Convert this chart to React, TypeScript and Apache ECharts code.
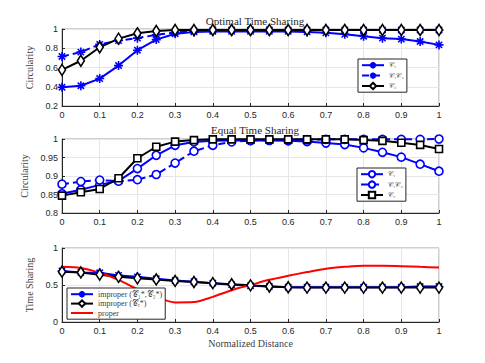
import React, { useEffect, useRef } from "react";
import * as echarts from "echarts";

const distances = [0, 0.05, 0.1, 0.15, 0.2, 0.25, 0.3, 0.35, 0.4, 0.45, 0.5, 0.55, 0.6, 0.65, 0.7, 0.75, 0.8, 0.85, 0.9, 0.95, 1];

// Panel 1: Optimal Time Sharing
const optC1 = [0.395, 0.41, 0.485, 0.62, 0.78, 0.89, 0.95, 0.97, 0.975, 0.975, 0.975, 0.975, 0.975, 0.97, 0.96, 0.945, 0.925, 0.905, 0.895, 0.87, 0.835];
const optC1C2 = [0.715, 0.76, 0.84, 0.88, 0.905, 0.94, 0.965, 0.98, 0.985, 0.99, 0.99, 0.99, 0.99, 0.99, 0.99, 0.99, 0.99, 0.99, 0.99, 0.99, 0.99];
const optC2 = [0.575, 0.67, 0.81, 0.9, 0.955, 0.98, 0.99, 0.99, 0.99, 0.99, 0.99, 0.99, 0.99, 0.99, 0.99, 0.99, 0.99, 0.99, 0.99, 0.99, 0.99];

// Panel 2: Equal Time Sharing
const eqC1 = [0.852, 0.863, 0.876, 0.887, 0.92, 0.956, 0.983, 0.992, 0.995, 0.996, 0.996, 0.996, 0.995, 0.993, 0.989, 0.985, 0.976, 0.964, 0.951, 0.932, 0.913];
const eqC1C2 = [0.878, 0.885, 0.889, 0.886, 0.89, 0.904, 0.935, 0.967, 0.983, 0.992, 0.996, 0.997, 0.998, 0.998, 0.999, 0.999, 0.999, 0.999, 0.999, 0.999, 1.0];
const eqC2 = [0.847, 0.856, 0.865, 0.894, 0.948, 0.979, 0.993, 0.997, 0.999, 0.999, 0.999, 0.999, 0.999, 0.999, 0.999, 0.999, 0.997, 0.995, 0.99, 0.984, 0.973];

// Panel 3: Time Sharing
const tsImproperC1C2 = [0.69, 0.67, 0.665, 0.63, 0.61, 0.585, 0.56, 0.545, 0.525, 0.505, 0.49, 0.48, 0.47, 0.47, 0.47, 0.47, 0.47, 0.47, 0.47, 0.48, 0.48];
const tsImproperCr = [0.68, 0.67, 0.64, 0.61, 0.59, 0.575, 0.555, 0.54, 0.525, 0.51, 0.495, 0.48, 0.47, 0.465, 0.465, 0.465, 0.465, 0.465, 0.465, 0.465, 0.465];
const tsProper = [0.745, 0.73, 0.665, 0.57, 0.445, 0.34, 0.265, 0.27, 0.34, 0.43, 0.5, 0.57, 0.625, 0.675, 0.72, 0.745, 0.76, 0.76, 0.755, 0.745, 0.735];

const xTicks = ["0", "0.1", "0.2", "0.3", "0.4", "0.5", "0.6", "0.7", "0.8", "0.9", "1"];

const legendLabels: Record<string, string> = {
  o1: "𝒞₁",
  o2: "𝒞₁𝒞₂",
  o3: "𝒞₂",
  e1: "𝒞₁",
  e2: "𝒞₁𝒞₂",
  e3: "𝒞₂",
  t1: "improper (𝒞₁*,𝒞₂*)",
  t2: "improper (𝒞ᵣ*)",
  t3: "proper",
};

const ASTERISK = "path://M0,5L10,5M5,0L5,10M1.5,1.5L8.5,8.5M1.5,8.5L8.5,1.5";
const SERIF = "Liberation Serif";
const SANS = "Liberation Sans";
const BLUE = "#0000ff";

const pairs = (ys: number[]) => ys.map((y, i) => [distances[i], y]);
const fmt = (v: number) => String(+v.toFixed(2));

export default function App() {
  const ref = useRef<HTMLDivElement>(null);
  useEffect(() => {
    if (!ref.current) return;
    const chart = echarts.init(ref.current, undefined, { renderer: "svg" });
    const grids = [
      { left: 62, width: 377, top: 29, height: 77 },
      { left: 62, width: 377, top: 139, height: 74 },
      { left: 62, width: 377, top: 248, height: 74 },
    ].map((g) => ({ ...g, show: true, borderColor: "#a0a0a0", borderWidth: 1, backgroundColor: "#fff" }));

    const xAxis = [0, 1, 2].map((i) => ({
      type: "value",
      gridIndex: i,
      min: 0,
      max: 1,
      interval: 0.1,
      axisLine: { show: true, lineStyle: { color: "#262626", width: 1 } },
      axisTick: { show: true, inside: true, length: 3, lineStyle: { color: "#262626" } },
      axisLabel: { color: "#262626", fontFamily: SANS, fontSize: 9, margin: 4, formatter: (v: number) => xTicks[Math.round(v * 10)] },
      splitLine: { show: true, lineStyle: { color: "#e6e6e6", width: 1 } },
      name: i === 2 ? "Normalized Distance" : "",
      nameLocation: "middle",
      nameGap: 16,
      nameTextStyle: { fontFamily: SERIF, fontSize: 10, color: "#404040" },
    }));

    const yCommon = {
      type: "value",
      axisLine: { show: true, lineStyle: { color: "#262626", width: 1 } },
      axisTick: { show: true, inside: true, length: 3, lineStyle: { color: "#262626" } },
      axisLabel: { color: "#262626", fontFamily: SANS, fontSize: 9, margin: 4, formatter: fmt },
      splitLine: { show: true, lineStyle: { color: "#e6e6e6", width: 1 } },
      nameLocation: "middle",
      nameTextStyle: { fontFamily: SERIF, fontSize: 10, color: "#404040" },
    };
    const yAxis = [
      { ...yCommon, gridIndex: 0, min: 0.2, max: 1, interval: 0.2, name: "Circularity", nameGap: 13 },
      { ...yCommon, gridIndex: 1, min: 0.8, max: 1, interval: 0.05, name: "Circularity", nameGap: 21 },
      { ...yCommon, gridIndex: 2, min: 0, max: 1, interval: 0.5, name: "Time Sharing", nameGap: 13 },
    ];

    const line = (name: string, data: number[], idx: number, color: string, symbol: string, size: any, dashed: boolean, fillWhite: boolean) => ({
      type: "line",
      name,
      xAxisIndex: idx,
      yAxisIndex: idx,
      data: pairs(data),
      symbol,
      symbolSize: size,
      showSymbol: true,
      lineStyle: { color, width: 2, type: dashed ? [7, 4] : "solid" },
      itemStyle: { color: fillWhite ? "#fff" : color, borderColor: color, borderWidth: 1.6 },
      emphasis: { disabled: true },
      z: 3,
    });

    const legendCommon = {
      orient: "vertical",
      backgroundColor: "#fff",
      borderColor: "#262626",
      borderWidth: 1,
      borderRadius: 0,
      itemWidth: 22,
      itemHeight: 8,
      itemGap: 2,
      padding: [2, 3, 2, 3],
      selectedMode: false,
      formatter: (n: string) => legendLabels[n] ?? n,
    };

    chart.setOption({
      animation: false,
      backgroundColor: "#fff",
      title: [
        { text: "Optimal Time Sharing", left: 250, top: 10, textAlign: "center", textStyle: { fontFamily: SERIF, fontSize: 11, fontWeight: "normal", color: "#262626" } },
        { text: "Equal Time Sharing", left: 250, top: 119, textAlign: "center", textStyle: { fontFamily: SERIF, fontSize: 11, fontWeight: "normal", color: "#262626" } },
      ],
      grid: grids,
      xAxis,
      yAxis,
      legend: [
        { ...legendCommon, left: 358, top: 59, data: ["o1", "o2", "o3"], textStyle: { fontFamily: SERIF, fontSize: 7, color: "#404040" } },
        { ...legendCommon, left: 357, top: 168, data: ["e1", "e2", "e3"], textStyle: { fontFamily: SERIF, fontSize: 7, color: "#404040" } },
        {
          ...legendCommon,
          left: 67,
          top: 288,
          itemGap: 1,
          data: ["t1", "t2", { name: "t3", itemStyle: { opacity: 0 } }],
          textStyle: { fontFamily: SERIF, fontSize: 8, color: "#404040" },
        },
      ],
      series: [
        line("o1", optC1, 0, BLUE, ASTERISK, 9, false, false),
        line("o2", optC1C2, 0, BLUE, ASTERISK, 9, true, false),
        line("o3", optC2, 0, "#000", "diamond", [7, 11], false, true),
        line("e1", eqC1, 1, BLUE, "circle", 8, false, true),
        line("e2", eqC1C2, 1, BLUE, "circle", 8, true, true),
        line("e3", eqC2, 1, "#000", "rect", 7, false, true),
        line("t1", tsImproperC1C2, 2, BLUE, ASTERISK, 9, false, false),
        line("t2", tsImproperCr, 2, "#000", "diamond", [7, 11], false, true),
        { ...line("t3", tsProper, 2, "#ff0000", "none", 0, false, false), showSymbol: false, smooth: 0.3 },
      ],
    });
    return () => chart.dispose();
  }, []);
  return <div ref={ref} style={{ position: "fixed", left: 0, top: 0, width: 485, height: 363 }} />;
}
